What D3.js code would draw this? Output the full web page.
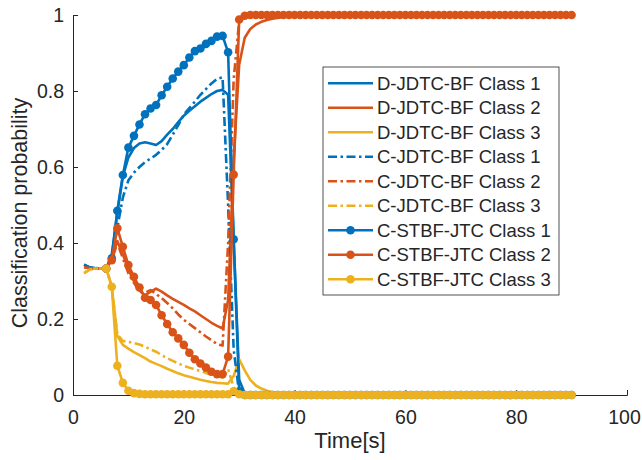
<!DOCTYPE html>
<html>
<head>
<meta charset="utf-8">
<script src="https://cdn.jsdelivr.net/npm/d3@7"></script>
<style>
  html, body { margin: 0; padding: 0; background: #fff; }
  svg { display: block; font-family: "Liberation Sans", Arial, Helvetica, sans-serif; }
</style>
</head>
<body>
<svg id="chart" width="642" height="460"></svg>
<script>
// Sampling times (s) of the JDTC-based filters
const jdtcTime = [2,3,4,5,6,7,8,9,10,11,
  12,13,14,15,16,17,18,19,20,21,
  22,23,24,25,26,27,28,29,30,31,
  32,33,34,35,36,37,38,39,40,
  50,60,70,80,90];

// D-JDTC-BF class probabilities
const dClass1 = [0.343,0.336,0.334,0.333,0.333,0.37,0.48,0.575,0.625,0.65,
  0.662,0.665,0.662,0.658,0.668,0.685,0.70,0.718,0.735,0.748,
  0.76,0.772,0.782,0.792,0.80,0.803,0.79,0.41,0.04,0.004,
  0.002,0.001,0.001,0.001,0.001,0.001,0.001,0.001,0.001,
  0,0,0,0,0];
const dClass2 = [0.336,0.334,0.333,0.333,0.333,0.36,0.405,0.37,0.33,0.30,
  0.275,0.262,0.272,0.28,0.272,0.262,0.253,0.245,0.237,0.228,
  0.22,0.21,0.20,0.19,0.182,0.175,0.25,0.62,0.87,0.94,
  0.963,0.975,0.982,0.987,0.99,0.993,0.995,0.996,0.997,
  1,1,1,1,1];
const dClass3 = [0.321,0.330,0.333,0.333,0.333,0.285,0.155,0.132,0.122,0.113,
  0.105,0.097,0.088,0.082,0.076,0.069,0.063,0.057,0.052,0.048,
  0.044,0.04,0.037,0.034,0.032,0.031,0.03,0.05,0.094,0.065,
  0.04,0.025,0.017,0.011,0.007,0.005,0.003,0.002,0.002,
  0.001,0.001,0,0,0];

// C-JDTC-BF class probabilities
const cClass1 = [0.343,0.336,0.334,0.333,0.333,0.36,0.44,0.52,0.565,0.585,
  0.60,0.613,0.622,0.632,0.645,0.66,0.685,0.71,0.738,0.755,
  0.772,0.79,0.805,0.82,0.832,0.836,0.50,0.12,0.005,0.002,
  0.001,0.001,0.001,0.001,0.001,0.001,0.001,0.001,0.001,
  0,0,0,0,0];
const cClass2 = [0.336,0.334,0.333,0.333,0.333,0.355,0.40,0.36,0.32,0.295,
  0.272,0.27,0.276,0.266,0.255,0.242,0.228,0.212,0.198,0.187,
  0.176,0.165,0.154,0.144,0.134,0.13,0.40,0.83,0.985,0.995,
  0.998,0.999,0.999,0.999,0.999,0.999,0.999,0.999,0.999,
  1,1,1,1,1];
const cClass3 = [0.321,0.330,0.333,0.333,0.333,0.285,0.16,0.142,0.14,0.137,
  0.133,0.127,0.12,0.114,0.105,0.097,0.09,0.083,0.077,0.072,
  0.067,0.063,0.058,0.053,0.049,0.046,0.068,0.02,0.005,0.002,
  0.001,0.001,0.001,0.001,0.001,0.001,0.001,0.001,0.001,
  0,0,0,0,0];

// Sampling times (s) of the C-STBF-JTC filter, one marker per step
const stbfTime = [6,7,8,9,10,11,12,13,14,15,
  16,17,18,19,20,21,22,23,24,25,
  26,27,28,29,30,31,32,33,34,35,
  36,37,38,39,40,41,42,43,44,45,
  46,47,48,49,50,51,52,53,54,55,
  56,57,58,59,60,61,62,63,64,65,
  66,67,68,69,70,71,72,73,74,75,
  76,77,78,79,80,81,82,83,84,85,
  86,87,88,89,90];

// C-STBF-JTC class probabilities
const sClass1 = [0.333,0.36,0.485,0.579,0.651,0.682,0.712,0.739,0.754,0.763,
  0.789,0.811,0.833,0.851,0.868,0.888,0.905,0.912,0.924,0.932,
  0.943,0.945,0.902,0.41,0.01,0,0,0,0,0,
  0,0,0,0,0,0,0,0,0,0,
  0,0,0,0,0,0,0,0,0,0,
  0,0,0,0,0,0,0,0,0,0,
  0,0,0,0,0,0,0,0,0,0,
  0,0,0,0,0,0,0,0,0,0,
  0,0,0,0,0];
const sClass2 = [0.333,0.355,0.439,0.39,0.342,0.311,0.283,0.256,0.25,0.237,
  0.21,0.187,0.165,0.149,0.132,0.111,0.094,0.083,0.072,0.061,
  0.055,0.055,0.101,0.58,0.988,0.998,1,1,1,1,
  1,1,1,1,1,1,1,1,1,1,
  1,1,1,1,1,1,1,1,1,1,
  1,1,1,1,1,1,1,1,1,1,
  1,1,1,1,1,1,1,1,1,1,
  1,1,1,1,1,1,1,1,1,1,
  1,1,1,1,1];
const sClass3 = [0.333,0.285,0.077,0.032,0.011,0.005,0.003,0.002,0.002,0.002,
  0.002,0.002,0.002,0.002,0.002,0.002,0.002,0.002,0.002,0.002,
  0.002,0.002,0.002,0.01,0.002,0,0,0,0,0,
  0,0,0,0,0,0,0,0,0,0,
  0,0,0,0,0,0,0,0,0,0,
  0,0,0,0,0,0,0,0,0,0,
  0,0,0,0,0,0,0,0,0,0,
  0,0,0,0,0,0,0,0,0,0,
  0,0,0,0,0];

const xTicks = [0, 20, 40, 60, 80, 100];
const yTicks = [0, 0.2, 0.4, 0.6, 0.8, 1];
const legendLabels = [
  "D-JDTC-BF Class 1", "D-JDTC-BF Class 2", "D-JDTC-BF Class 3",
  "C-JDTC-BF Class 1", "C-JDTC-BF Class 2", "C-JDTC-BF Class 3",
  "C-STBF-JTC Class 1", "C-STBF-JTC Class 2", "C-STBF-JTC Class 3"
];

const colors = ["#0072BD", "#D95319", "#EDB120"];
const series = [
  { time: jdtcTime, values: dClass1, color: colors[0], style: "solid", marker: false },
  { time: jdtcTime, values: dClass2, color: colors[1], style: "solid", marker: false },
  { time: jdtcTime, values: dClass3, color: colors[2], style: "solid", marker: false },
  { time: jdtcTime, values: cClass1, color: colors[0], style: "dashdot", marker: false },
  { time: jdtcTime, values: cClass2, color: colors[1], style: "dashdot", marker: false },
  { time: jdtcTime, values: cClass3, color: colors[2], style: "dashdot", marker: false },
  { time: stbfTime, values: sClass1, color: colors[0], style: "solid", marker: true },
  { time: stbfTime, values: sClass2, color: colors[1], style: "solid", marker: true },
  { time: stbfTime, values: sClass3, color: colors[2], style: "solid", marker: true }
];

const svg = d3.select("#chart");
const axisColor = "#262626";
const margin = { left: 73, right: 15, top: 15, bottom: 65 };
const W = 642, H = 460;
const lineW = 2.6, markR = 4.3;

const x = d3.scaleLinear().domain([0, 100]).range([margin.left, W - margin.right]);
const y = d3.scaleLinear().domain([0, 1]).range([H - margin.bottom, margin.top]);

// Axes (MATLAB style, ticks pointing inward, box off)
const xAxis = d3.axisBottom(x).tickValues(xTicks).tickSize(-5).tickPadding(15)
  .tickFormat(d3.format("d"));
const yAxis = d3.axisLeft(y).tickValues(yTicks).tickSize(-5).tickPadding(9)
  .tickFormat(d => d === 0 || d === 1 ? String(d) : d3.format(".1f")(d));

const gx = svg.append("g").attr("transform", `translate(0,${y(0)})`).call(xAxis);
const gy = svg.append("g").attr("transform", `translate(${x(0)},0)`).call(yAxis);
[gx, gy].forEach(g => {
  g.select(".domain").attr("stroke", axisColor).attr("stroke-width", 1);
  g.selectAll(".tick line").attr("stroke", axisColor).attr("stroke-width", 1);
  g.selectAll(".tick text").attr("fill", axisColor)
    .style("font-size", "19.5px").style("font-family", "'Liberation Sans', Arial, sans-serif");
});
gx.selectAll(".tick text").attr("dy", "0.71em");
// keep the last x label inside the figure edge
gx.selectAll(".tick text").filter(d => d === 100).attr("dx", "-3");

// Axis titles
svg.append("text")
  .attr("x", (x(0) + x(100)) / 2).attr("y", 448)
  .attr("text-anchor", "middle").attr("fill", axisColor)
  .style("font-size", "22px").text("Time[s]");
svg.append("text")
  .attr("transform", `translate(27,213) rotate(-90)`)
  .attr("text-anchor", "middle").attr("fill", axisColor)
  .style("font-size", "21.5px").text("Classification probability");

// Series lines and markers
const dashFor = s => s === "dashdot" ? "9,3.5,2.5,3.5" : null;
const plot = svg.append("g");
series.forEach(s => {
  const pts = s.time.map((t, i) => [t, s.values[i]]);
  const line = d3.line().x(d => x(d[0])).y(d => y(d[1]));
  plot.append("path")
    .datum(pts)
    .attr("d", line)
    .attr("fill", "none")
    .attr("stroke", s.color)
    .attr("stroke-width", lineW)
    .attr("stroke-linejoin", "round")
    .attr("stroke-dasharray", dashFor(s.style));
  if (s.marker) {
    plot.append("g").selectAll("circle")
      .data(pts).join("circle")
      .attr("cx", d => x(d[0])).attr("cy", d => y(d[1]))
      .attr("r", markR)
      .attr("fill", s.color);
  }
});

// Legend
const lg = svg.append("g").attr("transform", "translate(323,67)");
lg.append("rect")
  .attr("width", 236).attr("height", 228)
  .attr("fill", "#fff").attr("stroke", axisColor).attr("stroke-width", 0.8);
series.forEach((s, i) => {
  const cy = 16.3 + i * 24.5;
  lg.append("line")
    .attr("x1", 5).attr("x2", 50).attr("y1", cy).attr("y2", cy)
    .attr("stroke", s.color).attr("stroke-width", lineW)
    .attr("stroke-dasharray", dashFor(s.style));
  if (s.marker) {
    lg.append("circle").attr("cx", 27.5).attr("cy", cy).attr("r", markR).attr("fill", s.color);
  }
  lg.append("text")
    .attr("x", 54).attr("y", cy).attr("dy", "0.36em")
    .attr("fill", axisColor)
    .style("font-size", "18.5px")
    .text(legendLabels[i]);
});
</script>
</body>
</html>
